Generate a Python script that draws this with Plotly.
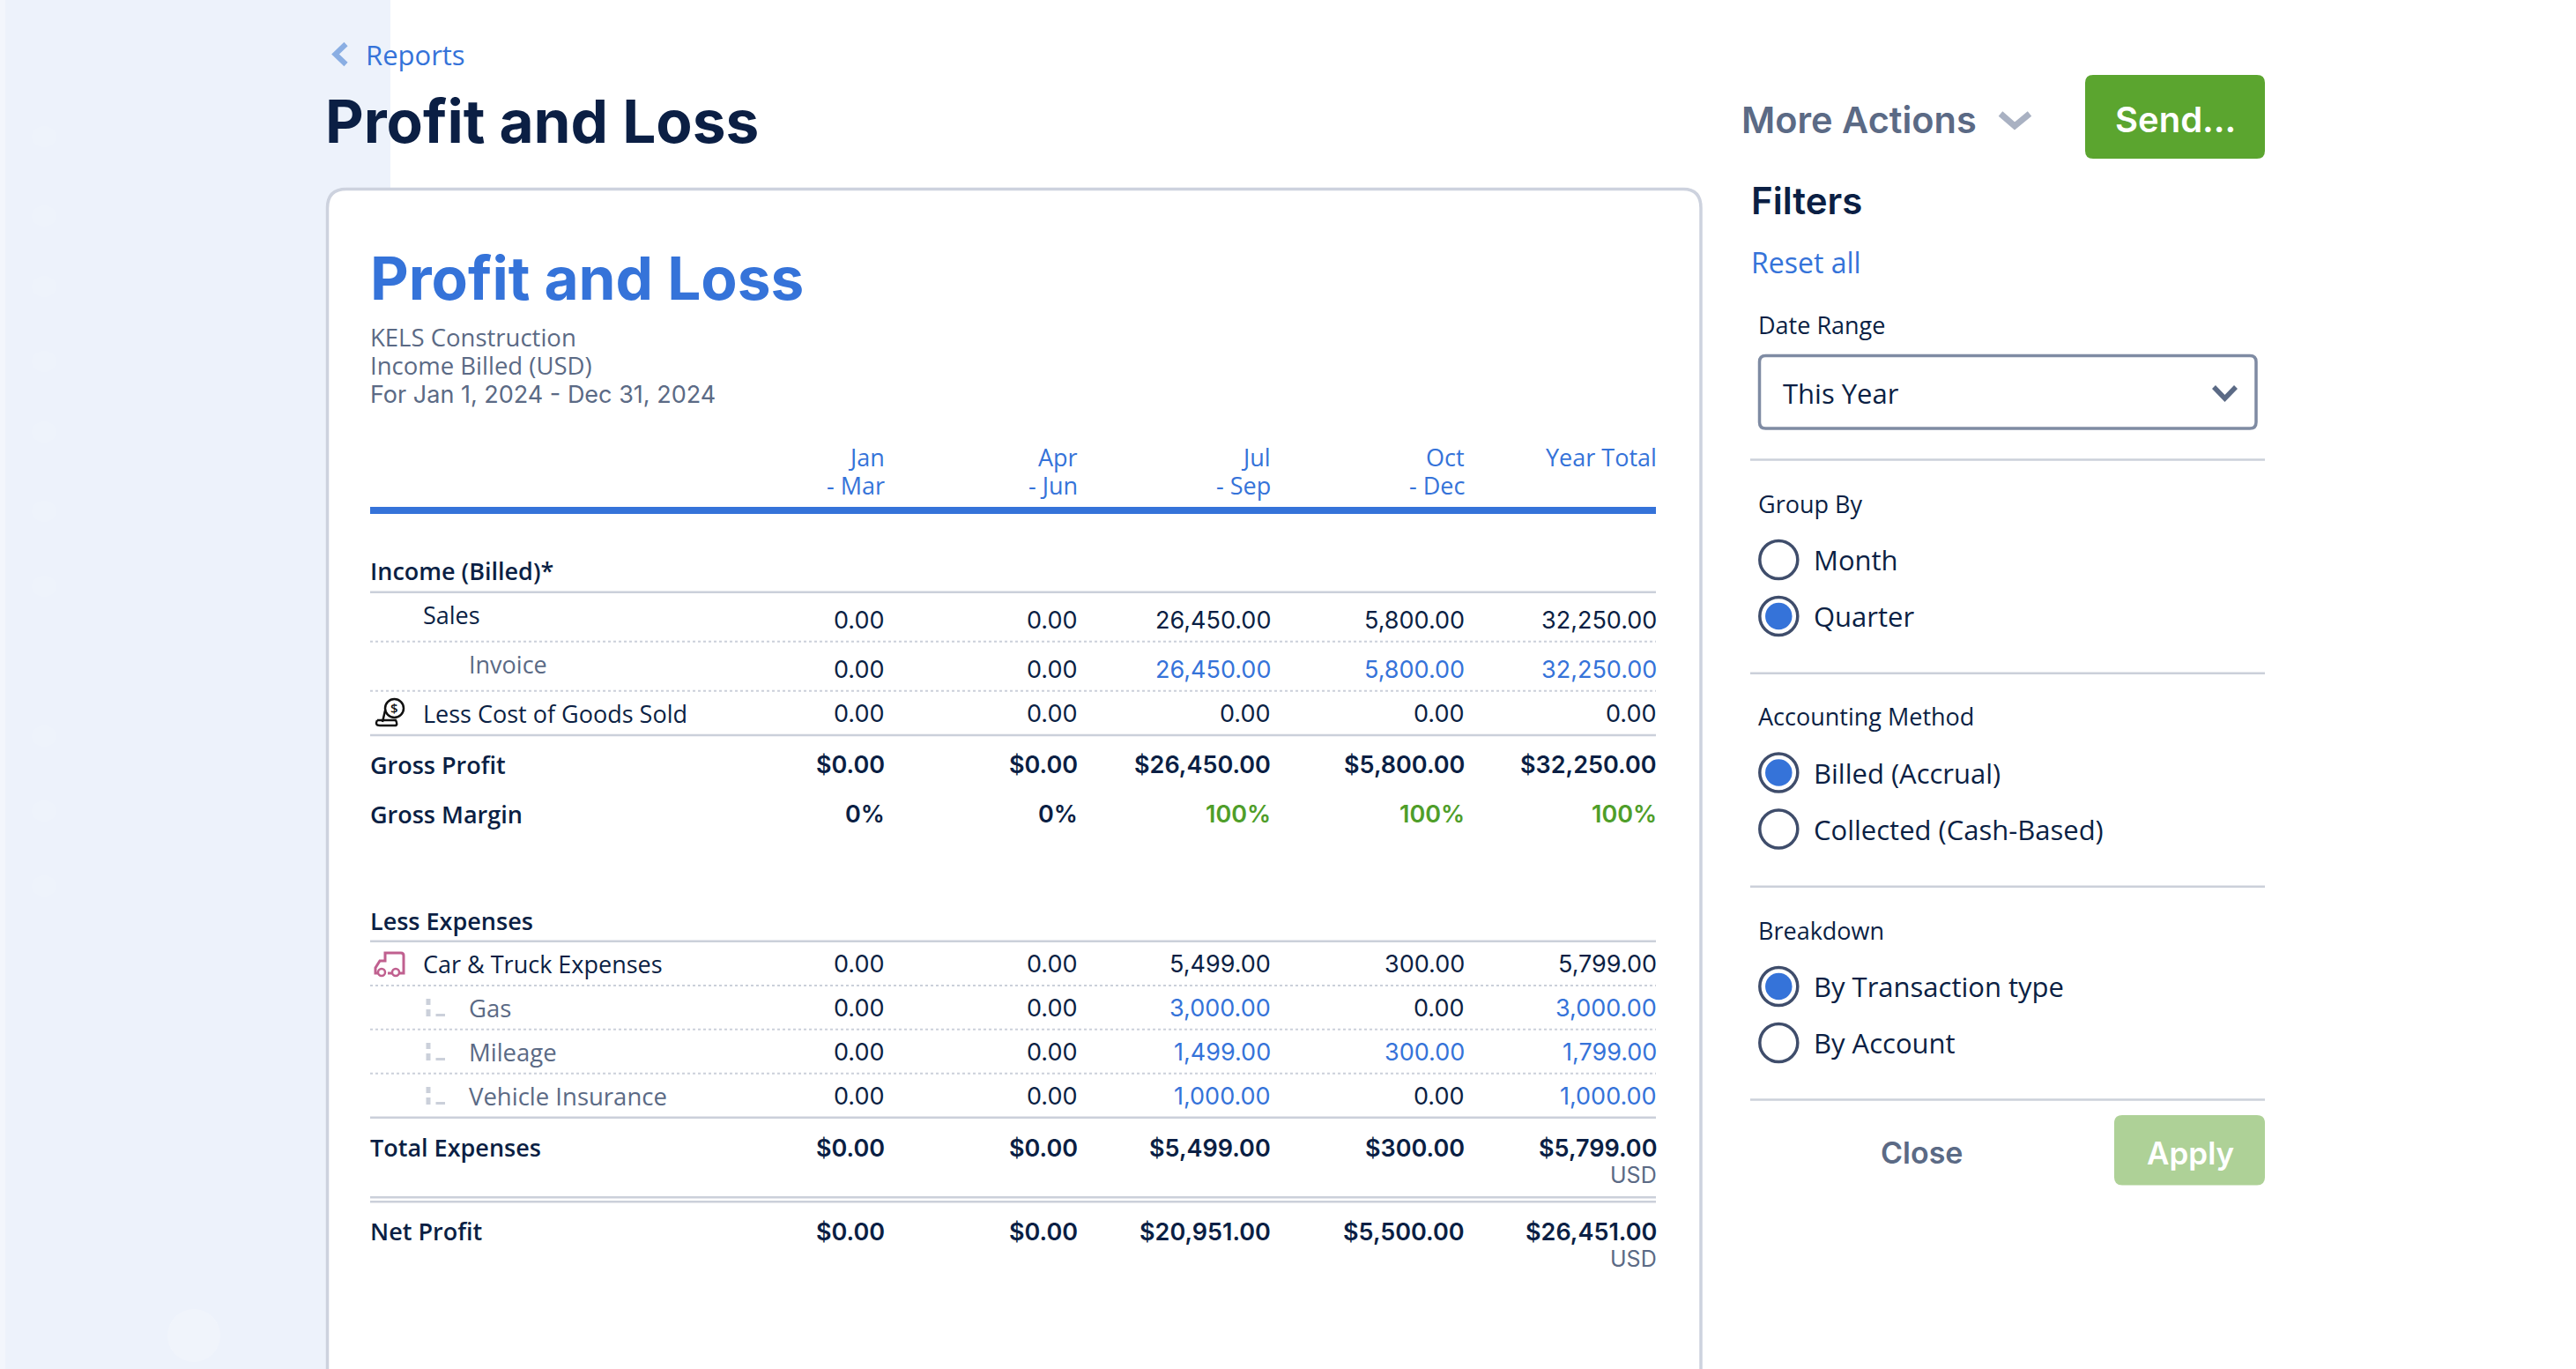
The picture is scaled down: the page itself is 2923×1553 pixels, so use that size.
import plotly.graph_objects as go

# Report text
company_lines = ["KELS Construction", "Income Billed (USD)", "For Jan 1, 2024 - Dec 31, 2024"]
header_top = ["Jan", "Apr", "Jul", "Oct", "Year Total"]
header_bottom = ["- Mar", "- Jun", "- Sep", "- Dec", ""]

# Report values, one list per row, columns are the four quarters and the year total
sales = [0, 0, 26450, 5800, 32250]
invoice = [0, 0, 26450, 5800, 32250]
cost_of_goods = [0, 0, 0, 0, 0]
gross_profit = [0, 0, 26450, 5800, 32250]
gross_margin = [0, 0, 100, 100, 100]
car_truck = [0, 0, 5499, 300, 5799]
gas = [0, 0, 3000, 0, 3000]
mileage = [0, 0, 1499, 300, 1799]
vehicle_insurance = [0, 0, 1000, 0, 1000]
total_expenses = [0, 0, 5499, 300, 5799]
net_profit = [0, 0, 20951, 5500, 26451]

# Filter panel text
date_range_value = "This Year"
group_by_options = ["Month", "Quarter"]
accounting_options = ["Billed (Accrual)", "Collected (Cash-Based)"]
breakdown_options = ["By Transaction type", "By Account"]

# Colours
NAVY = "#0b1f44"
BLUE = "#3573d9"
GREY = "#5b6a85"
GREEN = "#4f9e2a"
RULE = "#cbd0da"
HEAD_FONT = "Inter"
BODY_FONT = "Open Sans"
NUM_FONT = "Inter"
BODY_SIZE = 27
NUM_SIZE = 27

# Layout, in page pixels
W, H = 2923, 1553
COL_RIGHT = [1003.5, 1223, 1441.5, 1661.5, 1880]
TABLE_LEFT = 420
LABEL_X = 479.5
SUB_X = 531.5


def money(v):
    return f"{v:,.2f}"


def dollars(v):
    return f"${v:,.2f}"


def percent(v):
    return f"{v}%"


def round_rect(x0, y0, x1, y1, r):
    return (f"M{x0+r},{y0} L{x1-r},{y0} Q{x1},{y0} {x1},{y0+r} L{x1},{y1-r} Q{x1},{y1} {x1-r},{y1} "
            f"L{x0+r},{y1} Q{x0},{y1} {x0},{y1-r} L{x0},{y0+r} Q{x0},{y0} {x0+r},{y0} Z")


fig = go.Figure()


def text(x, y, s, size=BODY_SIZE, color=NAVY, anchor="left", family=BODY_FONT, weight=400):
    fig.add_annotation(x=x, y=y, xref="x", yref="y", text=s, showarrow=False, xanchor=anchor, yanchor="middle",
                       borderpad=0, borderwidth=0,
                       font=dict(family=family, size=size, color=color, weight=weight))


def path(d, fill="rgba(0,0,0,0)", line=None, width=0):
    fig.add_shape(type="path", path=d, xref="x", yref="y", fillcolor=fill, layer="below",
                  line=dict(color=line if line else "rgba(0,0,0,0)", width=width))


def rules(ys, x0, x1, color=RULE, width=2.5, dash="solid"):
    xs, yy = [], []
    for y in ys:
        xs += [x0, x1, None]
        yy += [y, y, None]
    fig.add_trace(go.Scatter(x=xs, y=yy, mode="lines", hoverinfo="skip", showlegend=False,
                             line=dict(color=color, width=width, dash=dash)))


# Blurred side menu behind the report
fig.add_shape(type="rect", x0=0, x1=443, y0=0, y1=H, fillcolor="#edf2fb", line_width=0, layer="below", xref="x", yref="y")
fig.add_shape(type="rect", x0=0, x1=6, y0=0, y1=H, fillcolor="#f3f6fc", line_width=0, layer="below", xref="x", yref="y")
for gy in [155, 245, 325, 410, 490, 580, 665, 835, 920, 1005]:
    fig.add_shape(type="circle", x0=36, x1=64, y0=gy-12, y1=gy+12, fillcolor="rgba(255,255,255,0.1)", line_width=0,
                  layer="below", xref="x", yref="y")
fig.add_shape(type="circle", x0=190, x1=250, y0=1485, y1=1545, fillcolor="rgba(255,255,255,0.2)", line_width=0,
              layer="below", xref="x", yref="y")

# Report card, runs off the bottom of the page
path(f"M371.5,{H+10} L371.5,236 Q371.5,214.5 393,214.5 L1910,214.5 Q1930,214.5 1930,236 L1930,{H+10} Z",
     fill="white", line="#cdd2de", width=3.5)

# Page header
path("M392.5,50 L380.5,61.5 L392.5,73", line="#8aaee3", width=6)
text(414.5, 61.5, "Reports", size=31, color=BLUE)
text(369, 137.5, "Profit and Loss", size=67.5, color=NAVY, family=HEAD_FONT, weight=700)
text(1975.5, 135.5, "More Actions", size=41.5, color=GREY, family=HEAD_FONT, weight=600)
path("M2270,129 L2286,143 L2303,129", line="#a9b1c2", width=7)
path(round_rect(2366, 85, 2570, 180, 9), fill="#5ba52f")
text(2468, 135, "Send...", size=40, color="white", anchor="center", family=HEAD_FONT, weight=600)

# Report heading
text(420, 315.5, "Profit and Loss", size=67.5, color=BLUE, family=HEAD_FONT, weight=700)
for line, y in zip(company_lines[:2], [382.5, 414.5]):
    text(420, y, line, size=27.5, color=GREY)
text(420, 447, company_lines[2], size=27, color=GREY, family=NUM_FONT)
for i, x in enumerate(COL_RIGHT):
    text(x, 518.5, header_top[i], color=BLUE, anchor="right")
    if header_bottom[i]:
        text(x, 550.5, header_bottom[i], color=BLUE, anchor="right")
fig.add_shape(type="rect", x0=TABLE_LEFT, x1=1879, y0=575, y1=583, fillcolor=BLUE, line_width=0, layer="below", xref="x", yref="y")

# Table rules
rules([671.7, 834, 1067.7, 1267.7, 1358.3, 1363.3], TABLE_LEFT, 1879)
rules([727.7, 783.7, 1118, 1167.7, 1217.7], TABLE_LEFT, 1879, width=2, dash="dot")

# Table rows
text(420, 647, "Income (Billed)*", weight=600)
text(420, 1044, "Less Expenses", weight=600)


def row(label, values, y, label_x=LABEL_X, label_y=None, fmt=money, label_color=NAVY, weight=400, link=False, size=BODY_SIZE):
    text(label_x, y if label_y is None else label_y, label, size=size, color=label_color, weight=weight)
    for v, x in zip(values, COL_RIGHT):
        color = BLUE if link and v else NAVY
        text(x, y, fmt(v), size=NUM_SIZE, color=color, anchor="right", family=NUM_FONT, weight=weight)


row("Sales", sales, 703, label_y=697)
row("Invoice", invoice, 759, label_x=SUB_X, label_y=753, label_color=GREY, link=True)
row("Less Cost of Goods Sold", cost_of_goods, 809)
row("Gross Profit", gross_profit, 867, label_x=420, fmt=dollars, weight=600)
text(420, 923, "Gross Margin", weight=600)
for v, x in zip(gross_margin, COL_RIGHT):
    text(x, 923, percent(v), size=NUM_SIZE, color=GREEN if v else NAVY, anchor="right", family=NUM_FONT, weight=600)
row("Car &amp; Truck Expenses", car_truck, 1093)
row("Gas", gas, 1143, label_x=SUB_X, label_color=GREY, link=True, size=27.5)
row("Mileage", mileage, 1193, label_x=SUB_X, label_color=GREY, link=True, size=27.5)
row("Vehicle Insurance", vehicle_insurance, 1243, label_x=SUB_X, label_color=GREY, link=True, size=27.5)
row("Total Expenses", total_expenses, 1302, label_x=420, label_y=1301, fmt=dollars, weight=600)
row("Net Profit", net_profit, 1397, label_x=420, label_y=1396, fmt=dollars, weight=600)
text(1880, 1333, "USD", size=25, color=GREY, anchor="right", family=NUM_FONT)
text(1880, 1428, "USD", size=25, color=GREY, anchor="right", family=NUM_FONT)

# Row icons
fig.add_shape(type="circle", x0=437, x1=458, y0=793, y1=814, line=dict(color="#111", width=2.5), layer="below", xref="x", yref="y")
text(447.5, 803, "$", size=15, color="#111", anchor="center", weight=600)
path("M437,806 L434,819 M428,817 L449,817 Q452,823 448,823 L431,823 Q425,823 428,817", line="#111", width=2.5)
path("M440,1104 L458,1104 L458,1084 Q458,1081 455,1081 L437,1081 L437,1090 L431,1090 L426,1098 L426,1104 L431,1104",
     line="#c0608f", width=3)
for cx in [433, 449]:
    fig.add_shape(type="circle", x0=cx-4, x1=cx+4, y0=1099, y1=1107, line=dict(color="#c0608f", width=2.5), fillcolor="white",
                  layer="below", xref="x", yref="y")
for cy in [1143, 1193, 1243]:
    for y0, y1, x0, x1 in [(-10, -3, 483.5, 488.5), (2, 10, 483.5, 488.5), (7, 10, 494.5, 505)]:
        fig.add_shape(type="rect", x0=x0, x1=x1, y0=cy+y0, y1=cy+y1, fillcolor=RULE, line_width=0, layer="below", xref="x", yref="y")

# Filter panel
text(1986.5, 227.5, "Filters", size=42, color=NAVY, family=HEAD_FONT, weight=600)
text(1986.5, 297, "Reset all", size=32, color=BLUE)
text(1995, 368.5, "Date Range", size=27)
path(round_rect(1996.5, 403.5, 2560, 486, 7), fill="white", line="#7f8ba3", width=3.5)
text(2023, 445.5, date_range_value, size=31)
path("M2512,439 L2524.5,452 L2537,439", line=GREY, width=5.5)
rules([521.4, 763.7, 1005.8, 1247.5], 1986, 2570, width=2.5)

group_labels = ["Group By", "Accounting Method", "Breakdown"]
group_options = [group_by_options, accounting_options, breakdown_options]
group_selected = [1, 0, 0]
label_ys = [571, 812.5, 1055]
option_ys = [[635, 699], [876.5, 940.5], [1119, 1183]]

off_y, on_y = [], []
for i in range(3):
    text(1995, label_ys[i], group_labels[i], size=27)
    for j, opt in enumerate(group_options[i]):
        text(2058, option_ys[i][j], opt, size=31)
        off_y.append(option_ys[i][j])
        if j == group_selected[i]:
            on_y.append(option_ys[i][j])

fig.add_trace(go.Scatter(x=[2018.3] * len(off_y), y=off_y, mode="markers", hoverinfo="skip", showlegend=False,
                         marker=dict(size=43, color="white", line=dict(color="#3f4d6b", width=3.5))))
fig.add_trace(go.Scatter(x=[2018.3] * len(on_y), y=on_y, mode="markers", hoverinfo="skip", showlegend=False,
                         marker=dict(size=30.5, color=BLUE, line=dict(width=0))))

text(2180, 1307.5, "Close", size=34, color=GREY, anchor="center", family=HEAD_FONT, weight=600)
path(round_rect(2399, 1265, 2570, 1344.5, 9), fill="#aed197")
text(2485, 1307.5, "Apply", size=35, color="white", anchor="center", family=HEAD_FONT, weight=600)

fig.update_layout(
    width=W, height=H, margin=dict(l=0, r=0, t=0, b=0), plot_bgcolor="white", paper_bgcolor="white", showlegend=False,
    xaxis=dict(range=[0, W], visible=False, fixedrange=True),
    yaxis=dict(range=[H, 0], visible=False, fixedrange=True),
)
fig.write_html("out.html", config=dict(displayModeBar=False), post_script="document.body.style.margin='0';")
